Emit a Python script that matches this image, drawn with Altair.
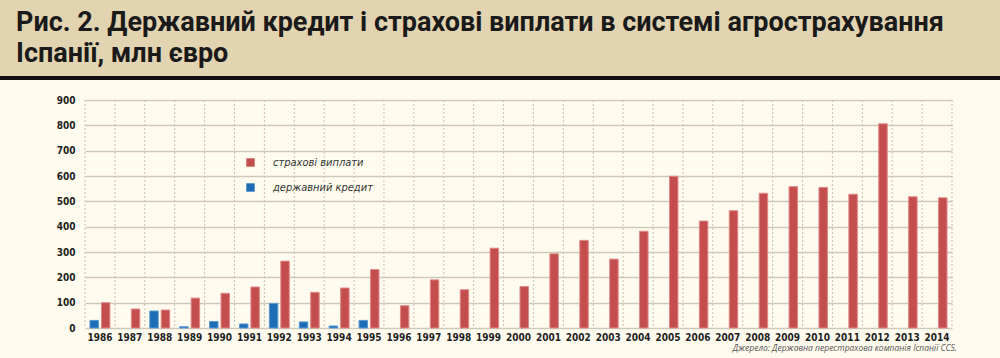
import altair as alt
import pandas as pd

years = [str(y) for y in range(1986, 2015)]
insurance = [100, 75, 71, 118, 137, 162, 264, 141, 158, 231, 88, 190, 151, 315,
             164, 293, 346, 272, 382, 599, 422, 463, 532, 558, 555, 528, 806, 518, 514]
credit = [30, None, 67, 5, 26, 16, 97, 24, 8, 30] + [None] * 19
y_ticks = [0, 100, 200, 300, 400, 500, 600, 700, 800, 900]

S_INS = "страхові виплати"
S_CRED = "державний кредит"
title_lines = ["Рис. 2. Державний кредит і страхові виплати в системі агрострахування",
               "Іспанії, млн євро"]
source_text = "Джерело: Державна перестрахова компанія Іспанії CCS."

rows = []
for i, y in enumerate(years):
    rows.append({"year": y, "series": S_INS, "value": insurance[i]})
    if credit[i] is not None:
        rows.append({"year": y, "series": S_CRED, "value": credit[i]})
df = pd.DataFrame(rows)
years_df = pd.DataFrame({"year": years})
last_df = pd.DataFrame({"year": [years[-1]]})
one = pd.DataFrame({"a": [0]})

xscale = alt.Scale(domain=years, paddingInner=0, paddingOuter=0)
x_axis = alt.Axis(title=None, labelAngle=0, grid=False, ticks=False, domain=False,
                  bandPosition=0.5,
                  labelFont="DejaVu Sans Condensed, DejaVu Sans", labelFontWeight="bold",
                  labelFontSize=10, labelColor="#1e1e1e", labelPadding=4)

band = alt.Chart(one).mark_rect(color="#e2d4b1").encode(
    x=alt.value(-85), x2=alt.value(915), y=alt.value(-100), y2=alt.value(-24))
blackline = alt.Chart(one).mark_rule(color="#111111", strokeWidth=4).encode(
    x=alt.value(-85), x2=alt.value(915), y=alt.value(-22))

vgrid = alt.Chart(years_df).mark_rule(color="#c4c1b6", strokeWidth=1, strokeDash=[2, 2]).encode(
    x=alt.X("year:N", scale=xscale, bandPosition=0, axis=x_axis))
vgrid_end = alt.Chart(last_df).mark_rule(color="#c4c1b6", strokeWidth=1, strokeDash=[2, 2]).encode(
    x=alt.X("year:N", scale=xscale, bandPosition=1, axis=x_axis))

bars = alt.Chart(df).mark_bar(strokeWidth=1).encode(
    x=alt.X("year:N", scale=xscale, sort=years, axis=x_axis),
    xOffset=alt.XOffset("series:N", scale=alt.Scale(domain=[S_CRED, S_INS],
                                                     paddingInner=0.26, paddingOuter=0.434)),
    y=alt.Y("value:Q", scale=alt.Scale(domain=[0, 900], nice=False),
            axis=alt.Axis(title=None, values=y_ticks, grid=True, gridColor="#cdc9bb", gridWidth=1.5,
                          ticks=False, domain=False, labelPadding=10,
                          labelFont="DejaVu Sans Condensed, DejaVu Sans", labelFontWeight="bold",
                          labelFontSize=10, labelColor="#1e1e1e")),
    fill=alt.Fill("series:N", scale=alt.Scale(domain=[S_INS, S_CRED], range=["#c44e4e", "#1c6db6"]),
                  legend=alt.Legend(title=None, orient="none", legendX=160, legendY=57,
                                    symbolType="square", symbolSize=70, symbolStrokeWidth=0,
                                    labelFont="DejaVu Sans Condensed, DejaVu Sans",
                                    labelFontStyle="italic", labelFontSize=11, labelColor="#333333",
                                    labelOffset=17, rowPadding=13, padding=0)),
    stroke=alt.Stroke("series:N", scale=alt.Scale(domain=[S_INS, S_CRED], range=["#e08a8a", "#5a98d2"]),
                      legend=None),
)

source = alt.Chart(one).mark_text(align="right", baseline="middle", font="Open Sans",
                                  fontStyle="italic", fontSize=8.5, color="#555555").encode(
    x=alt.value(872), y=alt.value(248), text=alt.value(source_text))

chart = alt.layer(band, blackline, vgrid, vgrid_end, bars, source).properties(
    width=867, height=228,
    autosize=alt.AutoSizeParams(type="none"),
    padding={"left": 85, "top": 100, "right": 48, "bottom": 30},
    background="#fffbee",
    title=alt.TitleParams(text=title_lines, anchor="start", dx=18, offset=-68,
                          font="Roboto", fontSize=27, fontWeight="bold", color="#1a1a1a",
                          lineHeight=31),
).configure_view(stroke=None)

chart.save("out.html", embed_options={"renderer": "svg", "actions": False})
